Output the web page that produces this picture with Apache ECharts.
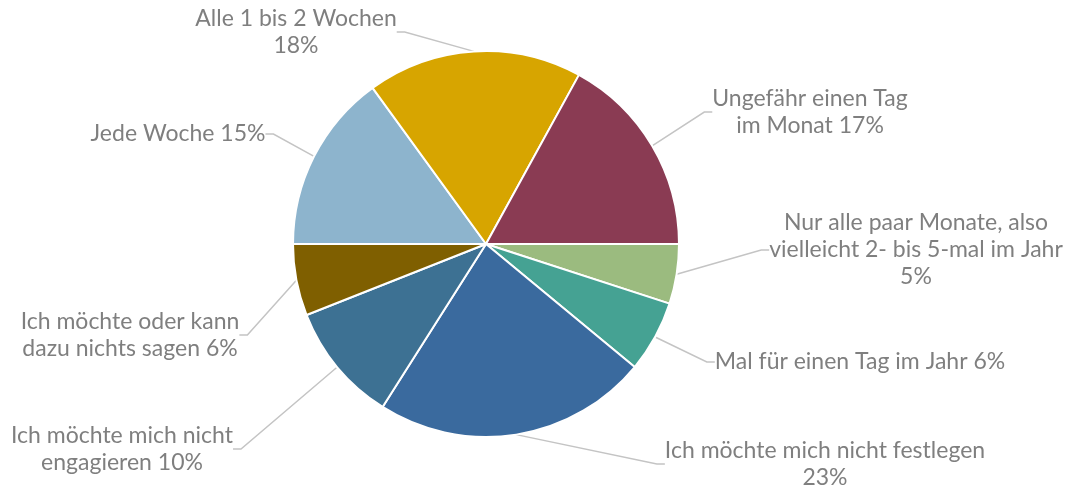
<!DOCTYPE html>
<html>
<head>
<meta charset="utf-8">
<script src="https://cdn.jsdelivr.net/npm/echarts@6/dist/echarts.min.js"></script>
<style>
  html, body { margin: 0; padding: 0; background: #fff; }
  #main { width: 1071px; height: 490px; }
</style>
</head>
<body>
<div id="main"></div>
<script>
// Kategorien in Uhrzeigerrichtung ab 3 Uhr
var categories = [
  'Nur alle paar Monate, also\nvielleicht 2- bis 5-mal im Jahr\n5%',
  'Mal für einen Tag im Jahr 6%',
  'Ich möchte mich nicht festlegen\n23%',
  'Ich möchte mich nicht\nengagieren 10%',
  'Ich möchte oder kann\ndazu nichts sagen 6%',
  'Jede Woche 15%',
  'Alle 1 bis 2 Wochen\n18%',
  'Ungefähr einen Tag\nim Monat 17%'
];
var values = [5, 6, 23, 10, 6, 15, 18, 17];
var colors = ['#9bbb7f', '#45a293', '#3a6a9e', '#3d7193', '#7f5f00', '#8db4cd', '#d7a500', '#8a3b53'];

// Lage der Beschriftungen (Mittelpunkt des Textblocks)
var labelPos = [
  [916, 250], [860, 362], [825, 464], [122, 449],
  [130, 335], [178, 134], [296, 32], [810, 112]
];

var chart = echarts.init(document.getElementById('main'));
chart.setOption({
  animation: false,
  series: [{
    type: 'pie',
    center: [486, 244],
    radius: 193,
    startAngle: 0,
    clockwise: true,
    avoidLabelOverlap: false,
    data: values.map(function (v, i) {
      return { name: categories[i], value: v, itemStyle: { color: colors[i] } };
    }),
    itemStyle: { borderColor: '#fff', borderWidth: 2 },
    label: {
      show: true,
      position: 'outside',
      formatter: '{b}',
      fontFamily: 'Lato',
      fontSize: 23,
      lineHeight: 27,
      color: '#7f7f7f',
      align: 'center'
    },
    labelLine: {
      show: true,
      length: 10,
      length2: 8,
      lineStyle: { color: '#c4c4c4', width: 1.5 }
    },
    labelLayout: function (params) {
      var p = labelPos[params.dataIndex];
      return { x: p[0], y: p[1], align: 'center', verticalAlign: 'middle' };
    },
    emphasis: { disabled: true }
  }]
});
</script>
</body>
</html>
